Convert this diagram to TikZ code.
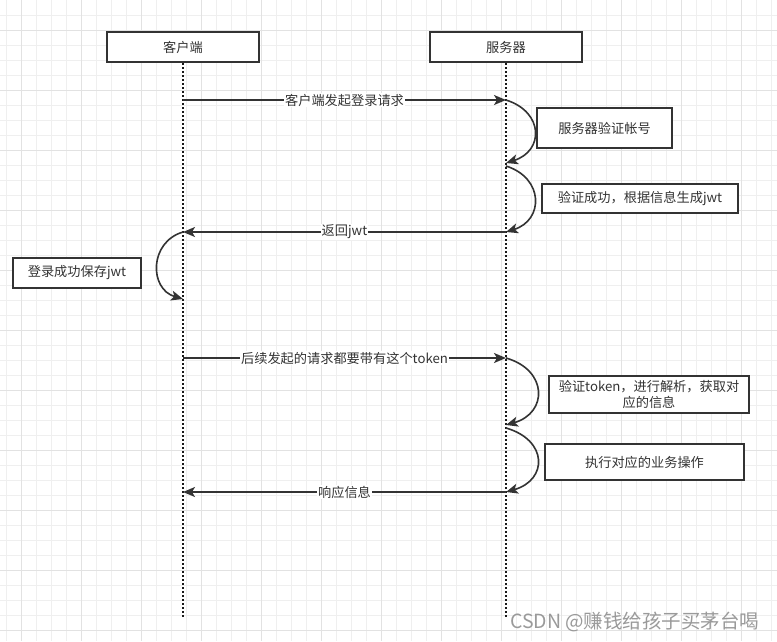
\documentclass[tikz,border=0pt]{standalone}
\usepackage{fontspec}
\newfontfamily\cjk{Noto Sans CJK SC}
\usetikzlibrary{arrows.meta}
\definecolor{ink}{HTML}{333333}
\definecolor{gridminor}{HTML}{EFEFEF}
\definecolor{gridmajor}{HTML}{E2E2E2}
\definecolor{wmgray}{HTML}{9A9A9A}

\begin{document}
\begin{tikzpicture}[x=1pt,y=-1pt, font=\cjk\fontsize{13.2}{16.5}\selectfont, text=ink,
  actor/.style={draw=ink, line width=2pt, fill=white, minimum width=152pt, minimum height=30pt},
  note/.style={draw=ink, line width=2pt, fill=white, inner sep=2pt, align=center},
  lifeline/.style={draw=black!90, line width=2.2pt, dash pattern=on 2pt off 2pt},
  msg/.style={draw=ink, line width=1.6pt, -{Stealth[length=12pt,width=10pt,inset=3pt]}},
  msglabel/.style={fill=white, inner sep=1pt}]

	%background grid
\useasboundingbox (0,0) rectangle (777,641);
\fill [white] (0,0) rectangle (777,641);
\foreach \gx in {0,...,51} \draw [gridminor, line width=1pt] ({6.7+15*\gx},0) -- ({6.7+15*\gx},641);
\foreach \gy in {1,...,42} \draw [gridminor, line width=1pt] (0,{15*\gy}) -- (777,{15*\gy});
\foreach \gx in {0,...,12} \draw [gridmajor, line width=1pt] ({21.7+60*\gx},0) -- ({21.7+60*\gx},641);
\foreach \gy in {0,...,10} \draw [gridmajor, line width=1pt] (0,{30+60*\gy}) -- (777,{30+60*\gy});
	%end of grid code

\node [actor] (client) at (183,47) {客户端};
\node [actor] (server) at (506,47) {服务器};

	%points on the lifelines
\coordinate (cend) at (183,618);
\coordinate (send) at (506,618);
\coordinate (c1) at (183,100);
\coordinate (s1) at (506,100);
\coordinate (s2) at (506,163);
\coordinate (s3) at (506,166);
\coordinate (s4) at (506,232);
\coordinate (c4) at (183,232);
\coordinate (c5) at (183,299);
\coordinate (c6) at (183,358);
\coordinate (s6) at (506,358);
\coordinate (s7) at (506,425);
\coordinate (s8) at (506,428);
\coordinate (s9) at (506,492);
\coordinate (c9) at (183,492);

\draw [lifeline] (client.south) -- (cend);
\draw [lifeline] (server.south) -- (send);

\node [note, minimum width=135pt, minimum height=40pt] (check) at (604.5,128) {服务器验证帐号};
\node [note, minimum width=196pt, minimum height=29pt] (makejwt) at (640,198.5) {验证成功，根据信息生成jwt};
\node [note, minimum width=128pt, minimum height=30pt] (save) at (77,273) {登录成功保存jwt};
\node [note, minimum width=200pt, minimum height=37pt, inner sep=1pt] (parse) at (649,394.5) {验证token，进行解析，获取对\\应的信息};
\node [note, minimum width=199pt, minimum height=36pt] (work) at (644.5,462) {执行对应的业务操作};

	%messages
\draw [msg] (c1) -- node [msglabel] {客户端发起登录请求} (s1);
\draw [msg] (s1) .. controls +(38,12) and +(38,-12) .. (s2);
\draw [msg] (s3) .. controls +(38,12) and +(38,-12) .. (s4);
\draw [msg] (s4) -- node [msglabel] {返回jwt} (c4);
\draw [msg] (c4) .. controls +(-34,10) and +(-34,-10) .. (c5);
\draw [msg] (c6) -- node [msglabel] {后续发起的请求都要带有这个token} (s6);
\draw [msg] (s6) .. controls +(42,12) and +(42,-12) .. (s7);
\draw [msg] (s8) .. controls +(42,12) and +(42,-12) .. (s9);
\draw [msg] (s9) -- node [msglabel] {响应信息} (c9);

\node [text=wmgray, font=\cjk\fontsize{19.5}{22}\selectfont, anchor=east] (wmark) at (763,622) {CSDN @赚钱给孩子买茅台喝};

\end{tikzpicture}
\end{document}
